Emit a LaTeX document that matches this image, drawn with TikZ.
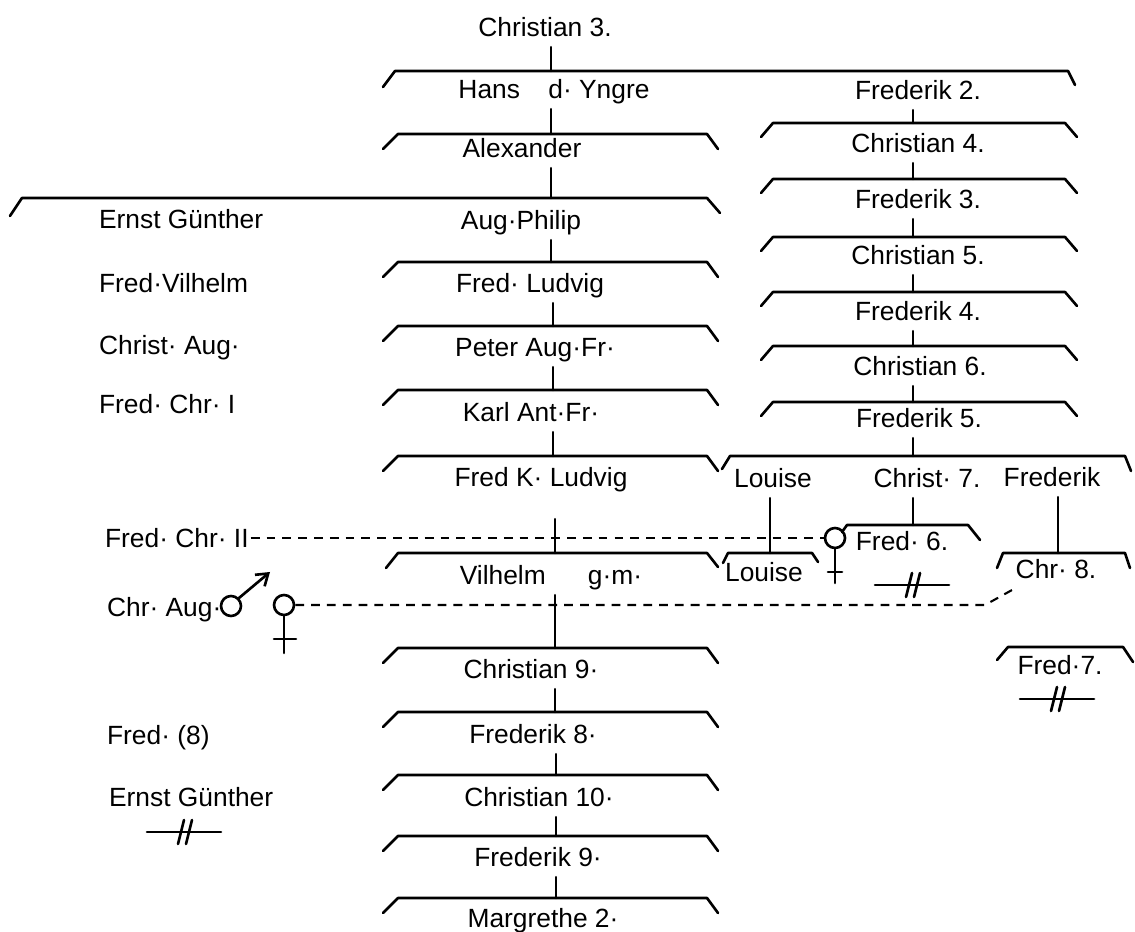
\documentclass[tikz,border=0pt]{standalone}
\usepackage{fontspec}
\setmainfont{Liberation Sans}
\usetikzlibrary{arrows.meta}
\tikzset{
  famline/.style={line width=1.5pt, line cap=round, line join=round},
  kinline/.style={line width=1.2pt, dash pattern=on 5pt off 4pt},
  royal/.style={font=\fontsize{15}{17}\selectfont, inner xsep=1pt,
    inner ysep=4pt, text height=12.5pt, text depth=2pt},
  sexring/.style={circle, draw, line width=1.5pt, minimum size=.40cm,
    inner sep=0pt},
  extinct/.pic={
    \draw[famline] (-.74,0) -- (.74,0);
    \draw[famline] (-.12,-.24) -- (0,.24) (.04,-.24) -- (.16,.24);
  }
}

\begin{document}
\begin{tikzpicture}
\path[use as bounding box] (0,0) rectangle (22.70,18.62);

% main line
\node[royal] (c3) at (10.90,18.08) {Christian 3.};
\node[royal] (hans) at (11.08,16.84) {Hans\hspace{.8em} d·~Yngre};
\node[royal] (f2) at (18.36,16.82) {Frederik 2.};
\node[royal] (alex) at (10.44,15.66) {Alexander};
\node[royal] (augph) at (10.42,14.22) {Aug·Philip};
\node[royal] (fludv) at (10.60,12.96) {Fred· Ludvig};
\node[royal] (peter) at (10.70,11.68) {Peter Aug·Fr·};
\node[royal] (karl) at (10.62,10.38) {Karl Ant·Fr·};
\node[royal] (fkl) at (10.82,9.08) {Fred K· Ludvig};
\node[royal] (vilh) at (11.02,7.12) {Vilhelm\hspace{1.6em}g·m·};
\node[royal] (c9) at (10.62,5.24) {Christian 9·};
\node[royal] (f8) at (10.66,3.94) {Frederik 8·};
\node[royal] (c10) at (10.78,2.68) {Christian 10·};
\node[royal] (f9) at (10.76,1.48) {Frederik 9·};
\node[royal] (m2) at (10.86,0.26) {Margrethe 2·};

% left side
\node[royal, anchor=west] (ernst) at (1.94,14.24) {Ernst Günther};
\node[royal, anchor=west] (fvil) at (1.94,12.96) {Fred·Vilhelm};
\node[royal, anchor=west] (caug) at (1.94,11.72) {Christ· Aug·};
\node[royal, anchor=west] (fchr1) at (1.94,10.54) {Fred· Chr· I};
\node[royal, anchor=west] (fchr2) at (2.06,7.86) {Fred· Chr· II};
\node[royal, anchor=west] (chraug) at (2.10,6.48) {Chr· Aug·};
\node[royal, anchor=west] (fred8) at (2.10,3.92) {Fred· (8)};
\node[royal, anchor=west] (ernst2) at (2.14,2.68) {Ernst Günther};

% right side
\node[royal] (c4) at (18.36,15.76) {Christian 4.};
\node[royal] (f3) at (18.36,14.64) {Frederik 3.};
\node[royal] (c5) at (18.36,13.52) {Christian 5.};
\node[royal] (f4) at (18.36,12.40) {Frederik 4.};
\node[royal] (c6) at (18.40,11.30) {Christian 6.};
\node[royal] (f5) at (18.38,10.26) {Frederik 5.};
\node[royal] (louise1) at (15.46,9.06) {Louise};
\node[royal] (c7) at (18.54,9.06) {Christ· 7.};
\node[royal] (fred) at (21.04,9.08) {Frederik};
\node[royal] (louise2) at (15.28,7.18) {Louise};
\node[royal] (f6) at (18.04,7.80) {Fred· 6.};
\node[royal] (chr8) at (21.12,7.24) {Chr· 8.};
\node[royal] (f7) at (21.20,5.32) {Fred·7.};

% sibling brackets
\draw[famline] (7.66,16.88) -- (7.90,17.20) -- (21.36,17.20) -- (21.50,16.92);
\draw[famline] (7.66,15.64) -- (7.96,15.94) -- (14.14,15.94) -- (14.36,15.64);
\draw[famline] (0.20,14.30) -- (0.44,14.66) -- (14.14,14.66) -- (14.40,14.36);
\draw[famline] (7.66,13.08) -- (7.96,13.38) -- (14.14,13.38) -- (14.36,13.08);
\draw[famline] (7.66,11.80) -- (7.96,12.10) -- (14.14,12.10) -- (14.36,11.80);
\draw[famline] (7.66,10.52) -- (7.96,10.82) -- (14.14,10.82) -- (14.36,10.52);
\draw[famline] (7.66,9.20) -- (7.96,9.50) -- (14.14,9.50) -- (14.36,9.20);
\draw[famline] (7.72,7.26) -- (7.96,7.56) -- (14.14,7.56) -- (14.36,7.28);
\draw[famline] (7.66,5.36) -- (7.96,5.66) -- (14.14,5.66) -- (14.36,5.36);
\draw[famline] (7.66,4.08) -- (7.96,4.38) -- (14.14,4.38) -- (14.36,4.08);
\draw[famline] (7.66,2.82) -- (7.96,3.12) -- (14.14,3.12) -- (14.36,2.82);
\draw[famline] (7.66,1.60) -- (7.96,1.90) -- (14.14,1.90) -- (14.36,1.60);
\draw[famline] (7.66,0.36) -- (7.96,0.66) -- (14.14,0.66) -- (14.36,0.36);

\draw[famline] (15.22,15.88) -- (15.46,16.16) -- (21.30,16.16) -- (21.54,15.88);
\draw[famline] (15.22,14.76) -- (15.46,15.04) -- (21.30,15.04) -- (21.54,14.76);
\draw[famline] (15.22,13.60) -- (15.46,13.88) -- (21.30,13.88) -- (21.54,13.60);
\draw[famline] (15.22,12.50) -- (15.46,12.78) -- (21.30,12.78) -- (21.54,12.50);
\draw[famline] (15.22,11.42) -- (15.46,11.70) -- (21.30,11.70) -- (21.54,11.42);
\draw[famline] (15.22,10.30) -- (15.46,10.58) -- (21.30,10.58) -- (21.54,10.30);
\draw[famline] (14.44,9.24) -- (14.60,9.50) -- (22.50,9.50) -- (22.62,9.20);
\draw[famline] (14.46,7.36) -- (14.56,7.56) -- (16.24,7.56) -- (16.36,7.38);
\draw[famline] (16.84,7.98) -- (16.94,8.12) -- (19.36,8.12) -- (19.60,7.82);
\draw[famline] (19.94,7.26) -- (20.06,7.56) -- (22.50,7.56) -- (22.60,7.26);
\draw[famline] (19.94,5.42) -- (20.16,5.68) -- (22.46,5.68) -- (22.66,5.38);

\coordinate (sTop) at (11.02,17.20);
\coordinate (sAlex) at (11.02,15.94);
\coordinate (sAug) at (11.02,14.66);
\coordinate (sFludv) at (11.02,13.38);
\coordinate (sPeter) at (11.06,12.10);
\coordinate (sKarl) at (11.06,10.82);
\coordinate (sFkl) at (11.06,9.50);
\coordinate (sVilh) at (11.10,7.56);
\coordinate (sC9) at (11.10,5.66);
\coordinate (sF8) at (11.10,4.38);
\coordinate (sC10) at (11.12,3.12);
\coordinate (sF9) at (11.12,1.90);
\coordinate (sM2) at (11.12,0.66);
\coordinate (sC4) at (18.26,16.16);
\coordinate (sF3) at (18.26,15.04);
\coordinate (sC5) at (18.26,13.88);
\coordinate (sF4) at (18.26,12.78);
\coordinate (sC6) at (18.26,11.70);
\coordinate (sF5) at (18.26,10.58);
\coordinate (sLow) at (18.26,9.50);
\coordinate (sLou) at (15.40,7.56);
\coordinate (sF6) at (18.26,8.12);
\coordinate (sChr8) at (21.16,7.56);

% descent
\draw[famline] (c3.south -| sTop) -- (sTop);
\draw[famline] (hans.south -| sAlex) -- (sAlex);
\draw[famline] (alex.south -| sAug) -- (sAug);
\draw[famline] (augph.south -| sFludv) -- (sFludv);
\draw[famline] (fludv.south -| sPeter) -- (sPeter);
\draw[famline] (peter.south -| sKarl) -- (sKarl);
\draw[famline] (karl.south -| sFkl) -- (sFkl);
\draw[famline, shorten <=.44cm] (fkl.south -| sVilh) -- (sVilh);
\draw[famline] (vilh.south -| sC9) -- (sC9);
\draw[famline] (c9.south -| sF8) -- (sF8);
\draw[famline] (f8.south -| sC10) -- (sC10);
\draw[famline] (c10.south -| sF9) -- (sF9);
\draw[famline] (f9.south -| sM2) -- (sM2);
\draw[famline] (f2.south -| sC4) -- (sC4);
\draw[famline] (c4.south -| sF3) -- (sF3);
\draw[famline] (f3.south -| sC5) -- (sC5);
\draw[famline] (c5.south -| sF4) -- (sF4);
\draw[famline] (f4.south -| sC6) -- (sC6);
\draw[famline] (c6.south -| sF5) -- (sF5);
\draw[famline] (f5.south -| sLow) -- (sLow);
\draw[famline] (louise1.south -| sLou) -- (sLou);
\draw[famline] (c7.south -| sF6) -- (sF6);
\draw[famline] (fred.south -| sChr8) -- (sChr8);

% male / female signs
\node[sexring] (male) at (4.62,6.50) {};
\coordinate (mtip) at (5.40,7.18);
\draw[famline, -{Straight Barb[length=2.2mm, width=3mm]}] (male.north east) -- (mtip);
\node[sexring] (fem2) at (5.68,6.52) {};
\coordinate (fem2end) at (5.68,5.56);
\draw[famline] (fem2.south) -- (fem2end);
\draw[famline] (5.48,5.84) -- (5.92,5.84);
\node[sexring] (fem1) at (16.70,7.86) {};
\coordinate (fem1end) at (16.70,6.96);
\draw[famline] (fem1.south) -- (fem1end);
\draw[famline] (16.56,7.18) -- (16.84,7.18);

% kinship
\draw[kinline] (fchr2.east) -- (fem1.west);
\coordinate (bend) at (19.70,6.52);
\draw[kinline] (fem2.east) -- (bend) -- (chr8.south west);

% line extinct
\pic at (3.68,1.98) {extinct};
\pic at (18.24,6.92) {extinct};
\pic at (21.14,4.64) {extinct};
\end{tikzpicture}
\end{document}
